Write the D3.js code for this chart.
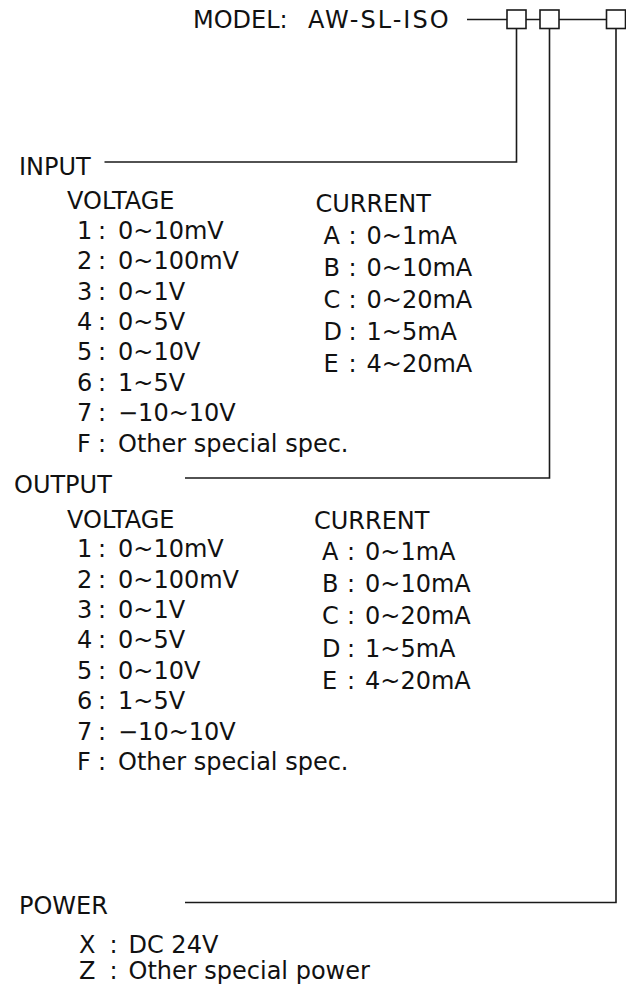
<!DOCTYPE html>
<html>
<head>
<meta charset="utf-8">
<script src="https://cdn.jsdelivr.net/npm/d3@7"></script>
<style>
  body { margin: 0; background: #fff; }
  text { font-family: "DejaVu Sans", sans-serif; font-size: 24px; fill: #111; }
</style>
</head>
<body>
<div id="chart"></div>
<script>
const WIDTH = 626;
const HEIGHT = 985;

// model code
const modelLabel = 'MODEL:';
const modelName = 'AW-SL-ISO';

// section titles, in order of the code boxes
const sections = ['INPUT', 'OUTPUT', 'POWER'];

const voltageCodes = ['1', '2', '3', '4', '5', '6', '7', 'F'];
const voltageRanges = ['0~10mV', '0~100mV', '0~1V', '0~5V', '0~10V', '1~5V', '\u221210~10V', 'Other special spec.'];

const currentCodes = ['A', 'B', 'C', 'D', 'E'];
const currentRanges = ['0~1mA', '0~10mA', '0~20mA', '1~5mA', '4~20mA'];

const powerCodes = ['X', 'Z'];
const powerSpecs = ['DC 24V', 'Other special power'];

const svg = d3.select('#chart')
  .append('svg')
    .attr('width', WIDTH)
    .attr('height', HEIGHT);

// box centres along the model line
const boxCenter = {INPUT: 516.5, OUTPUT: 549.5, POWER: 616};
const BOX = {W: 19, H: 18.5, TOP: 10};
const lineY = 19.5;

// where each leader turns
const leader = {
  INPUT: {y: 162, x0: 104.5, labelX: 19, labelY: 174.5},
  OUTPUT: {y: 478, x0: 185, labelX: 14, labelY: 493},
  POWER: {y: 902.5, x0: 185, labelX: 19, labelY: 914}
};

const lines = svg.append('g')
  .attr('fill', 'none')
  .attr('stroke', '#1a1a1a')
  .attr('stroke-width', 1.6);

// top line through the boxes
lines.append('line')
  .attr('x1', 467).attr('x2', boxCenter.POWER)
  .attr('y1', lineY).attr('y2', lineY);

svg.append('g')
  .selectAll('rect')
  .data(sections)
  .enter().append('rect')
    .attr('x', d => boxCenter[d] - BOX.W / 2)
    .attr('y', BOX.TOP)
    .attr('width', BOX.W)
    .attr('height', BOX.H)
    .attr('fill', '#fff')
    .attr('stroke', '#1a1a1a')
    .attr('stroke-width', 1.6);

// leaders from the boxes down to the titles
lines.selectAll('path')
  .data(sections)
  .enter().append('path')
    .attr('d', d => {
      const l = leader[d];
      return d3.line()([[boxCenter[d], BOX.TOP + BOX.H], [boxCenter[d], l.y], [l.x0, l.y]]);
    });

svg.append('text')
  .attr('x', 193)
  .attr('y', 28)
  .text(modelLabel)
  .append('tspan')
    .attr('x', 308)
    .attr('letter-spacing', 2)
    .text(modelName);

svg.selectAll('.title')
  .data(sections)
  .enter().append('text')
    .attr('class', 'title')
    .attr('x', d => leader[d].labelX)
    .attr('y', d => leader[d].labelY)
    .text(d => d);

// a column of "code : value" rows
function codeList(g, codes, values, opts) {
  const y = d3.scaleLinear()
    .domain([0, 1])
    .range([opts.y0, opts.y0 + opts.step]);

  const rows = g.selectAll(null)
    .data(codes.map((c, i) => ({code: c, value: values[i], i})))
    .enter().append('g');

  rows.append('text')
    .attr('x', opts.x)
    .attr('y', d => y(d.i))
    .text(d => d.code);
  rows.append('text')
    .attr('x', opts.colon)
    .attr('y', d => y(d.i))
    .attr('text-anchor', 'middle')
    .text(':');
  rows.append('text')
    .attr('x', opts.value)
    .attr('y', d => y(d.i))
    .text(d => d.value);
}

const blocks = [
  {name: 'INPUT', dy: 0, curX: 315.5, curDy: 0},
  {name: 'OUTPUT', dy: 318.5, curX: 314, curDy: -2}
];

blocks.forEach(b => {
  const g = svg.append('g');

  g.append('text')
    .attr('x', 67)
    .attr('y', 209 + b.dy)
    .text('VOLTAGE');
  g.append('text')
    .attr('x', b.curX)
    .attr('y', 212 + b.dy + b.curDy)
    .text('CURRENT');

  codeList(g, voltageCodes, voltageRanges, {
    x: 77, colon: 102, value: 118, y0: 238.7 + b.dy, step: 30.4
  });
  codeList(g, currentCodes, currentRanges, {
    x: b.curX + 8, colon: b.curX + 37, value: b.curX + 51, y0: 243.7 + b.dy + b.curDy, step: 32.1
  });
});

codeList(svg.append('g'), powerCodes, powerSpecs, {
  x: 79, colon: 113.5, value: 128.5, y0: 953, step: 26
});
</script>
</body>
</html>
